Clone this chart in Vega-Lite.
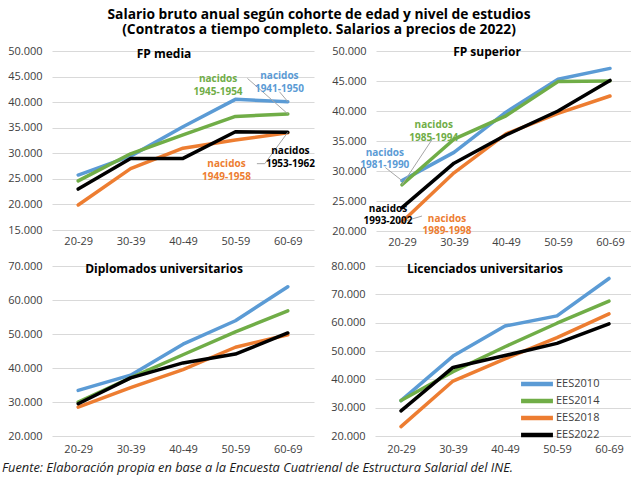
{
  "$schema": "https://vega.github.io/schema/vega-lite/v6.json",
  "background": "white",
  "padding": {"left": 2, "top": 8, "right": 0, "bottom": 0},
  "autosize": {"type": "pad"},
  "title": {
    "text": ["Salario bruto anual según cohorte de edad y nivel de estudios", "(Contratos a tiempo completo. Salarios a precios de 2022)"],
    "fontSize": 13.8, "fontWeight": "bold", "lineHeight": 15, "anchor": "middle", "offset": 8, "color": "#000000"
  },
  "datasets": {
    "lineas": [
      {"panel": "FP media", "serie": "EES2010", "edad": 25, "salario": 25750},
      {"panel": "FP media", "serie": "EES2010", "edad": 35, "salario": 29450},
      {"panel": "FP media", "serie": "EES2010", "edad": 45, "salario": 35200},
      {"panel": "FP media", "serie": "EES2010", "edad": 55, "salario": 40550},
      {"panel": "FP media", "serie": "EES2010", "edad": 65, "salario": 40100},
      {"panel": "FP media", "serie": "EES2014", "edad": 25, "salario": 24600},
      {"panel": "FP media", "serie": "EES2014", "edad": 35, "salario": 29900},
      {"panel": "FP media", "serie": "EES2014", "edad": 45, "salario": 33600},
      {"panel": "FP media", "serie": "EES2014", "edad": 55, "salario": 37200},
      {"panel": "FP media", "serie": "EES2014", "edad": 65, "salario": 37700},
      {"panel": "FP media", "serie": "EES2018", "edad": 25, "salario": 19900},
      {"panel": "FP media", "serie": "EES2018", "edad": 35, "salario": 27000},
      {"panel": "FP media", "serie": "EES2018", "edad": 45, "salario": 31000},
      {"panel": "FP media", "serie": "EES2018", "edad": 55, "salario": 32600},
      {"panel": "FP media", "serie": "EES2018", "edad": 65, "salario": 34000},
      {"panel": "FP media", "serie": "EES2022", "edad": 25, "salario": 23000},
      {"panel": "FP media", "serie": "EES2022", "edad": 35, "salario": 29000},
      {"panel": "FP media", "serie": "EES2022", "edad": 45, "salario": 29000},
      {"panel": "FP media", "serie": "EES2022", "edad": 55, "salario": 34200},
      {"panel": "FP media", "serie": "EES2022", "edad": 65, "salario": 34100},
      {"panel": "FP superior", "serie": "EES2010", "edad": 25, "salario": 28400},
      {"panel": "FP superior", "serie": "EES2010", "edad": 35, "salario": 33100},
      {"panel": "FP superior", "serie": "EES2010", "edad": 45, "salario": 39800},
      {"panel": "FP superior", "serie": "EES2010", "edad": 55, "salario": 45300},
      {"panel": "FP superior", "serie": "EES2010", "edad": 65, "salario": 47100},
      {"panel": "FP superior", "serie": "EES2014", "edad": 25, "salario": 27700},
      {"panel": "FP superior", "serie": "EES2014", "edad": 35, "salario": 35300},
      {"panel": "FP superior", "serie": "EES2014", "edad": 45, "salario": 39200},
      {"panel": "FP superior", "serie": "EES2014", "edad": 55, "salario": 44900},
      {"panel": "FP superior", "serie": "EES2014", "edad": 65, "salario": 45000},
      {"panel": "FP superior", "serie": "EES2018", "edad": 25, "salario": 21500},
      {"panel": "FP superior", "serie": "EES2018", "edad": 35, "salario": 29700},
      {"panel": "FP superior", "serie": "EES2018", "edad": 45, "salario": 36200},
      {"panel": "FP superior", "serie": "EES2018", "edad": 55, "salario": 39600},
      {"panel": "FP superior", "serie": "EES2018", "edad": 65, "salario": 42500},
      {"panel": "FP superior", "serie": "EES2022", "edad": 25, "salario": 23900},
      {"panel": "FP superior", "serie": "EES2022", "edad": 35, "salario": 31300},
      {"panel": "FP superior", "serie": "EES2022", "edad": 45, "salario": 36000},
      {"panel": "FP superior", "serie": "EES2022", "edad": 55, "salario": 40000},
      {"panel": "FP superior", "serie": "EES2022", "edad": 65, "salario": 45100},
      {"panel": "Diplomados", "serie": "EES2010", "edad": 25, "salario": 33400},
      {"panel": "Diplomados", "serie": "EES2010", "edad": 35, "salario": 37900},
      {"panel": "Diplomados", "serie": "EES2010", "edad": 45, "salario": 47000},
      {"panel": "Diplomados", "serie": "EES2010", "edad": 55, "salario": 53900},
      {"panel": "Diplomados", "serie": "EES2010", "edad": 65, "salario": 63900},
      {"panel": "Diplomados", "serie": "EES2014", "edad": 25, "salario": 30000},
      {"panel": "Diplomados", "serie": "EES2014", "edad": 35, "salario": 37100},
      {"panel": "Diplomados", "serie": "EES2014", "edad": 45, "salario": 43900},
      {"panel": "Diplomados", "serie": "EES2014", "edad": 55, "salario": 50600},
      {"panel": "Diplomados", "serie": "EES2014", "edad": 65, "salario": 56800},
      {"panel": "Diplomados", "serie": "EES2018", "edad": 25, "salario": 28500},
      {"panel": "Diplomados", "serie": "EES2018", "edad": 35, "salario": 34200},
      {"panel": "Diplomados", "serie": "EES2018", "edad": 45, "salario": 39500},
      {"panel": "Diplomados", "serie": "EES2018", "edad": 55, "salario": 46100},
      {"panel": "Diplomados", "serie": "EES2018", "edad": 65, "salario": 49800},
      {"panel": "Diplomados", "serie": "EES2022", "edad": 25, "salario": 29500},
      {"panel": "Diplomados", "serie": "EES2022", "edad": 35, "salario": 37100},
      {"panel": "Diplomados", "serie": "EES2022", "edad": 45, "salario": 41500},
      {"panel": "Diplomados", "serie": "EES2022", "edad": 55, "salario": 44100},
      {"panel": "Diplomados", "serie": "EES2022", "edad": 65, "salario": 50300},
      {"panel": "Licenciados", "serie": "EES2010", "edad": 25, "salario": 32500},
      {"panel": "Licenciados", "serie": "EES2010", "edad": 35, "salario": 48200},
      {"panel": "Licenciados", "serie": "EES2010", "edad": 45, "salario": 58800},
      {"panel": "Licenciados", "serie": "EES2010", "edad": 55, "salario": 62400},
      {"panel": "Licenciados", "serie": "EES2010", "edad": 65, "salario": 75600},
      {"panel": "Licenciados", "serie": "EES2014", "edad": 25, "salario": 32500},
      {"panel": "Licenciados", "serie": "EES2014", "edad": 35, "salario": 42700},
      {"panel": "Licenciados", "serie": "EES2014", "edad": 45, "salario": 51500},
      {"panel": "Licenciados", "serie": "EES2014", "edad": 55, "salario": 59800},
      {"panel": "Licenciados", "serie": "EES2014", "edad": 65, "salario": 67600},
      {"panel": "Licenciados", "serie": "EES2018", "edad": 25, "salario": 23300},
      {"panel": "Licenciados", "serie": "EES2018", "edad": 35, "salario": 39400},
      {"panel": "Licenciados", "serie": "EES2018", "edad": 45, "salario": 47200},
      {"panel": "Licenciados", "serie": "EES2018", "edad": 55, "salario": 54700},
      {"panel": "Licenciados", "serie": "EES2018", "edad": 65, "salario": 63100},
      {"panel": "Licenciados", "serie": "EES2022", "edad": 25, "salario": 28900},
      {"panel": "Licenciados", "serie": "EES2022", "edad": 35, "salario": 44200},
      {"panel": "Licenciados", "serie": "EES2022", "edad": 45, "salario": 48400},
      {"panel": "Licenciados", "serie": "EES2022", "edad": 55, "salario": 52700},
      {"panel": "Licenciados", "serie": "EES2022", "edad": 65, "salario": 59600}
    ],
    "etiquetas": [
      {"panel": "FP media", "serie": "EES2014", "edad": 51.7, "salario": 44500, "texto": "nacidos\n1945-1954"},
      {"panel": "FP media", "serie": "EES2010", "edad": 63.4, "salario": 45070, "texto": "nacidos\n1941-1950"},
      {"panel": "FP media", "serie": "EES2022", "edad": 65.5, "salario": 30370, "texto": "nacidos\n1953-1962"},
      {"panel": "FP media", "serie": "EES2018", "edad": 53.3, "salario": 27870, "texto": "nacidos\n1949-1958"},
      {"panel": "FP superior", "serie": "EES2014", "edad": 31.1, "salario": 37650, "texto": "nacidos\n1985-1994"},
      {"panel": "FP superior", "serie": "EES2010", "edad": 21.7, "salario": 33070, "texto": "nacidos\n1981-1990"},
      {"panel": "FP superior", "serie": "EES2022", "edad": 22.3, "salario": 23750, "texto": "nacidos\n1993-2002"},
      {"panel": "FP superior", "serie": "EES2018", "edad": 33.65, "salario": 22030, "texto": "nacidos\n1989-1998"}
    ],
    "guias": [
      {"panel": "FP media", "edad": 57.3, "salario": 44640, "edad2": 65, "salario2": 37700},
      {"panel": "FP media", "edad": 63.4, "salario": 42040, "edad2": 65, "salario2": 40100},
      {"panel": "FP media", "edad": 59.1, "salario": 27970, "edad2": 60.6, "salario2": 27970},
      {"panel": "FP media", "edad": 60.6, "salario": 27970, "edad2": 65, "salario2": 34100},
      {"panel": "FP superior", "edad": 30.8, "salario": 35280, "edad2": 25, "salario2": 27700},
      {"panel": "FP superior", "edad": 21.8, "salario": 30570, "edad2": 25, "salario2": 28400},
      {"panel": "FP superior", "edad": 28.85, "salario": 22500, "edad2": 25, "salario2": 21500}
    ]
  },
  "vconcat": [
    {
      "title": {
        "text": "Fuente: Elaboración propia en base a la Encuesta Cuatrienal de Estructura Salarial del INE.",
        "orient": "bottom", "anchor": "start", "fontSize": 12.8, "fontStyle": "italic", "fontWeight": "normal",
        "color": "#1a1a1a", "offset": 6, "frame": "bounds"
      },
      "spacing": 9,
      "resolve": {"scale": {"color": "independent"}, "legend": {"color": "independent"}},
      "vconcat": [
        {
          "spacing": 11,
          "resolve": {"scale": {"color": "independent"}, "legend": {"color": "independent"}},
          "hconcat": [
            {
              "width": 262, "height": 179,
              "title": {"text": "FP media", "offset": -16, "dx": -19},
              "encoding": {
                "x": {"field": "edad", "type": "quantitative", "scale": {"domain": [20, 70], "nice": false, "zero": false},
                  "axis": {"values": [25, 35, 45, 55, 65], "labelExpr": "(datum.value - 5) + '-' + (datum.value + 4)", "grid": false, "domain": false, "ticks": false, "title": null, "labelPadding": 5, "minExtent": 20, "maxExtent": 20}},
                "y": {"field": "salario", "type": "quantitative", "scale": {"domain": [15000, 50000], "nice": false, "zero": false},
                  "axis": {"values": [15000, 20000, 25000, 30000, 35000, 40000, 45000, 50000], "title": null}}
              },
              "layer": [
                {"data": {"name": "lineas"}, "transform": [{"filter": "datum.panel === 'FP media'"}],
                  "mark": {"type": "line", "strokeWidth": 3.5, "strokeCap": "round", "strokeJoin": "round"},
                  "encoding": {"color": {"field": "serie", "type": "nominal", "legend": null}}},
                {"data": {"name": "guias"}, "transform": [{"filter": "datum.panel === 'FP media'"}],
                  "mark": {"type": "rule", "color": "#a6a6a6", "strokeWidth": 1},
                  "encoding": {"x2": {"field": "edad2"}, "y2": {"field": "salario2"}}},
                {"data": {"name": "etiquetas"}, "transform": [{"filter": "datum.panel === 'FP media'"}],
                  "mark": {"type": "text", "fontWeight": "bold", "fontSize": 10, "lineBreak": "\n", "lineHeight": 12.5, "align": "center", "baseline": "middle"},
                  "encoding": {"text": {"field": "texto"}, "color": {"field": "serie", "type": "nominal", "legend": null}}}
              ]
            },
            {
              "width": 260, "height": 180,
              "title": {"text": "FP superior", "offset": -14, "dx": -19},
              "encoding": {
                "x": {"field": "edad", "type": "quantitative", "scale": {"domain": [20, 70], "nice": false, "zero": false},
                  "axis": {"values": [25, 35, 45, 55, 65], "labelExpr": "(datum.value - 5) + '-' + (datum.value + 4)", "grid": false, "domain": false, "ticks": false, "title": null, "labelPadding": 5, "minExtent": 20, "maxExtent": 20}},
                "y": {"field": "salario", "type": "quantitative", "scale": {"domain": [20000, 50000], "nice": false, "zero": false},
                  "axis": {"values": [20000, 25000, 30000, 35000, 40000, 45000, 50000], "title": null}}
              },
              "layer": [
                {"data": {"name": "lineas"}, "transform": [{"filter": "datum.panel === 'FP superior'"}],
                  "mark": {"type": "line", "strokeWidth": 3.5, "strokeCap": "round", "strokeJoin": "round"},
                  "encoding": {"color": {"field": "serie", "type": "nominal", "legend": null}}},
                {"data": {"name": "guias"}, "transform": [{"filter": "datum.panel === 'FP superior'"}],
                  "mark": {"type": "rule", "color": "#a6a6a6", "strokeWidth": 1},
                  "encoding": {"x2": {"field": "edad2"}, "y2": {"field": "salario2"}}},
                {"data": {"name": "etiquetas"}, "transform": [{"filter": "datum.panel === 'FP superior'"}],
                  "mark": {"type": "text", "fontWeight": "bold", "fontSize": 10, "lineBreak": "\n", "lineHeight": 12.5, "align": "center", "baseline": "middle"},
                  "encoding": {"text": {"field": "texto"}, "color": {"field": "serie", "type": "nominal", "legend": null}}}
              ]
            }
          ]
        },
        {
          "spacing": 11,
          "resolve": {"scale": {"color": "independent"}, "legend": {"color": "independent"}},
          "hconcat": [
            {
              "width": 262, "height": 170,
              "title": {"text": "Diplomados universitarios", "offset": -16, "dx": -19},
              "data": {"name": "lineas"},
              "transform": [{"filter": "datum.panel === 'Diplomados'"}],
              "mark": {"type": "line", "strokeWidth": 3.5, "strokeCap": "round", "strokeJoin": "round"},
              "encoding": {
                "x": {"field": "edad", "type": "quantitative", "scale": {"domain": [20, 70], "nice": false, "zero": false},
                  "axis": {"values": [25, 35, 45, 55, 65], "labelExpr": "(datum.value - 5) + '-' + (datum.value + 4)", "grid": false, "domain": false, "ticks": false, "title": null, "labelPadding": 7, "minExtent": 20, "maxExtent": 20}},
                "y": {"field": "salario", "type": "quantitative", "scale": {"domain": [20000, 70000], "nice": false, "zero": false},
                  "axis": {"values": [20000, 30000, 40000, 50000, 60000, 70000], "title": null}},
                "color": {"field": "serie", "type": "nominal", "legend": null}
              }
            },
            {
              "width": 260, "height": 170,
              "title": {"text": "Licenciados universitarios", "offset": -16, "dx": -20},
              "data": {"name": "lineas"},
              "transform": [{"filter": "datum.panel === 'Licenciados'"}],
              "mark": {"type": "line", "strokeWidth": 3.5, "strokeCap": "round", "strokeJoin": "round"},
              "encoding": {
                "x": {"field": "edad", "type": "quantitative", "scale": {"domain": [20, 70], "nice": false, "zero": false},
                  "axis": {"values": [25, 35, 45, 55, 65], "labelExpr": "(datum.value - 5) + '-' + (datum.value + 4)", "grid": false, "domain": false, "ticks": false, "title": null, "labelPadding": 7, "minExtent": 20, "maxExtent": 20}},
                "y": {"field": "salario", "type": "quantitative", "scale": {"domain": [20000, 80000], "nice": false, "zero": false},
                  "axis": {"values": [20000, 30000, 40000, 50000, 60000, 70000, 80000], "title": null}},
                "color": {"field": "serie", "type": "nominal",
                  "legend": {"orient": "none", "legendX": 154, "legendY": 110, "title": null, "padding": 0,
                    "symbolType": "M-3,0H3", "symbolSize": 113, "symbolStrokeWidth": 4.5, "labelOffset": 11,
                    "labelFontSize": 11, "labelColor": "#404040", "rowPadding": -3.5}}
              }
            }
          ]
        }
      ]
    }
  ],
  "resolve": {"scale": {"color": "independent"}, "legend": {"color": "independent"}},
  "config": {
    "font": "Open Sans",
    "view": {"stroke": null},
    "title": {"fontSize": 12, "fontWeight": "bold", "color": "#000000", "anchor": "middle"},
    "axis": {"labelFontSize": 11, "labelColor": "#404040", "labelFont": "Open Sans"},
    "axisY": {"domain": false, "ticks": false, "grid": true, "gridColor": "#d9d9d9", "gridWidth": 1, "labelPadding": 10, "minExtent": 50, "maxExtent": 50,
      "labelExpr": "replace(format(datum.value, ','), ',', '.')"},
    "range": {"category": ["#5b9bd5", "#70ad47", "#ed7d31", "#000000"]}
  }
}
